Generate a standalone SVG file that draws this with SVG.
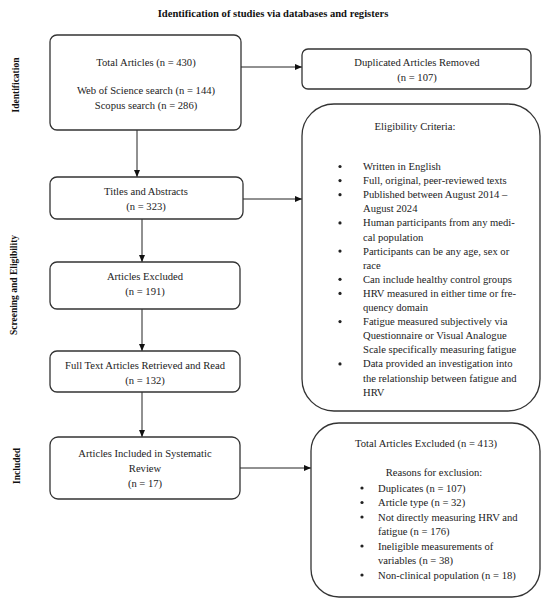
<svg xmlns="http://www.w3.org/2000/svg" width="550" height="605" viewBox="0 0 550 605">
<style>
.box{fill:#fff;stroke:#333;stroke-width:1.3}
.t{font-family:"Liberation Serif","Times New Roman",serif;font-size:10.6px;fill:#222}
.c{text-anchor:middle}
.b{font-family:"Liberation Serif","Times New Roman",serif;font-size:9.5px;font-weight:bold;fill:#111;text-anchor:middle}
.title{font-size:10.6px}
.conn{stroke:#222;stroke-width:1;fill:none;marker-end:url(#ah)}
.dot{fill:#222}
</style>
<defs>
<marker id="ah" markerUnits="userSpaceOnUse" markerWidth="7" markerHeight="6" refX="7" refY="3" orient="auto">
<path d="M0,0 L7,3 L0,6 z" fill="#111"/>
</marker>
</defs>
<rect width="550" height="605" fill="#fff"/>
<text class="b title" x="273" y="16.5">Identification of studies via databases and registers</text>
<g id="side-labels">
<text class="b" transform="translate(18.5,85) rotate(-90)">Identification</text>
<text class="b" transform="translate(16.5,285) rotate(-90)">Screening and Eligibility</text>
<text class="b" transform="translate(19.5,466) rotate(-90)">Included</text>
</g>
<g id="connectors">
<line class="conn" x1="241" y1="67" x2="302" y2="67"/>
<line class="conn" x1="137" y1="130" x2="137" y2="177"/>
<line class="conn" x1="243" y1="199" x2="302" y2="199"/>
<line class="conn" x1="142" y1="219" x2="142" y2="262"/>
<line class="conn" x1="142" y1="309" x2="142" y2="351"/>
<line class="conn" x1="142" y1="392" x2="142" y2="437"/>
<line class="conn" x1="239" y1="468" x2="311" y2="468"/>
</g>
<g id="total-articles">
<rect class="box" x="50" y="35" width="191" height="95" rx="7"/>
<text class="t c" x="146" y="65.5">Total Articles (n = 430)</text>
<text class="t c" x="146" y="93.5">Web of Science search (n = 144)</text>
<text class="t c" x="146" y="108.5">Scopus search (n = 286)</text>
</g>
<g id="duplicates-removed">
<rect class="box" x="302" y="49" width="229" height="40" rx="6"/>
<text class="t c" x="417" y="65.5">Duplicated Articles Removed</text>
<text class="t c" x="417" y="80.5">(n = 107)</text>
</g>
<g id="eligibility">
<rect class="box" x="302" y="104" width="238" height="307" rx="32"/>
<text class="t c" x="415" y="129.5">Eligibility Criteria:</text>
<circle class="dot" cx="340" cy="166.5" r="1.6"/>
<circle class="dot" cx="340" cy="180.6" r="1.6"/>
<circle class="dot" cx="340" cy="194.7" r="1.6"/>
<circle class="dot" cx="340" cy="222.9" r="1.6"/>
<circle class="dot" cx="340" cy="251.1" r="1.6"/>
<circle class="dot" cx="340" cy="279.3" r="1.6"/>
<circle class="dot" cx="340" cy="293.4" r="1.6"/>
<circle class="dot" cx="340" cy="321.6" r="1.6"/>
<circle class="dot" cx="340" cy="363.9" r="1.6"/>
<text class="t" x="363" y="170">Written in English</text>
<text class="t" x="363" y="184.1">Full, original, peer-reviewed texts</text>
<text class="t" x="363" y="198.2">Published between August 2014 –</text>
<text class="t" x="363" y="212.3">August 2024</text>
<text class="t" x="363" y="226.4">Human participants from any medi-</text>
<text class="t" x="363" y="240.5">cal population</text>
<text class="t" x="363" y="254.6">Participants can be any age, sex or</text>
<text class="t" x="363" y="268.7">race</text>
<text class="t" x="363" y="282.8">Can include healthy control groups</text>
<text class="t" x="363" y="296.9">HRV measured in either time or fre-</text>
<text class="t" x="363" y="311">quency domain</text>
<text class="t" x="363" y="325.1">Fatigue measured subjectively via</text>
<text class="t" x="363" y="339.2">Questionnaire or Visual Analogue</text>
<text class="t" x="363" y="353.3">Scale specifically measuring fatigue</text>
<text class="t" x="363" y="367.4">Data provided an investigation into</text>
<text class="t" x="363" y="381.5">the relationship between fatigue and</text>
<text class="t" x="363" y="395.6">HRV</text>
</g>
<g id="titles-abstracts">
<rect class="box" x="50" y="177" width="193" height="42" rx="7"/>
<text class="t c" x="146" y="194.5">Titles and Abstracts</text>
<text class="t c" x="146" y="209.5">(n = 323)</text>
</g>
<g id="articles-excluded">
<rect class="box" x="50" y="262" width="190" height="47" rx="7"/>
<text class="t c" x="145" y="279.5">Articles Excluded</text>
<text class="t c" x="145" y="294.5">(n = 191)</text>
</g>
<g id="full-text">
<rect class="box" x="50" y="351" width="190" height="41" rx="7"/>
<text class="t c" x="145" y="368.5">Full Text Articles Retrieved and Read</text>
<text class="t c" x="145" y="383.5">(n = 132)</text>
</g>
<g id="included">
<rect class="box" x="50" y="437" width="190" height="62" rx="8"/>
<text class="t c" x="145" y="456.5">Articles Included in Systematic</text>
<text class="t c" x="145" y="471.5">Review</text>
<text class="t c" x="145" y="486.5">(n = 17)</text>
</g>
<g id="total-excluded">
<rect class="box" x="311" y="423" width="229" height="174" rx="28"/>
<text class="t c" x="426" y="446.5">Total Articles Excluded (n = 413)</text>
<text class="t c" x="434" y="475.5">Reasons for exclusion:</text>
<circle class="dot" cx="362" cy="488" r="1.6"/>
<circle class="dot" cx="362" cy="502.5" r="1.6"/>
<circle class="dot" cx="362" cy="517" r="1.6"/>
<circle class="dot" cx="362" cy="546" r="1.6"/>
<circle class="dot" cx="362" cy="575" r="1.6"/>
<text class="t" x="378" y="491.5">Duplicates (n = 107)</text>
<text class="t" x="378" y="506">Article type (n = 32)</text>
<text class="t" x="378" y="520.5">Not directly measuring HRV and</text>
<text class="t" x="378" y="535">fatigue (n = 176)</text>
<text class="t" x="378" y="549.5">Ineligible measurements of</text>
<text class="t" x="378" y="564">variables (n = 38)</text>
<text class="t" x="378" y="578.5">Non-clinical population (n = 18)</text>
</g>
</svg>
